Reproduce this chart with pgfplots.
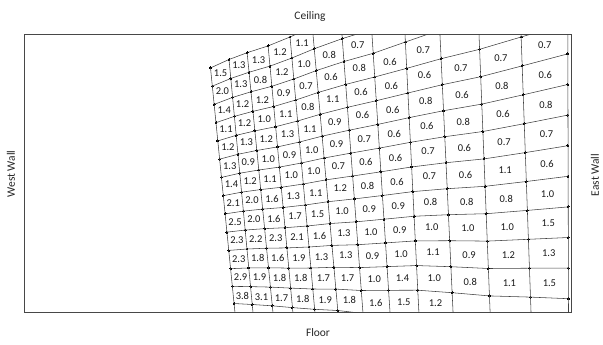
\documentclass[border=0pt]{standalone}
\usepackage{fontspec}
\setmainfont{Carlito}
\usepackage{pgfplots}
\pgfplotsset{compat=1.18}
\usepackage{pgfplotstable}
\pgfplotstableread{
x y v
220.6 73.0 1.5
222.4 91.6 2.0
224.2 110.2 1.4
226.0 128.8 1.1
227.9 147.4 1.2
229.7 166.0 1.3
231.5 184.6 1.4
233.3 203.2 2.1
235.1 221.8 2.5
236.9 240.4 2.3
238.7 259.0 2.3
240.6 277.6 2.9
242.4 296.2 3.8
238.9 65.0 1.3
240.75 84.3 1.3
242.6 103.7 1.2
244.5 123.0 1.2
246.4 142.3 1.3
248.3 161.65 0.9
250.15 181.0 1.2
252.0 200.3 2.0
253.9 219.6 2.0
255.8 239.0 2.2
257.7 258.3 1.8
259.55 277.6 1.9
261.45 297.0 3.1
258.6 60.0 1.3
260.5 79.8 0.8
262.4 99.7 1.2
264.3 119.5 1.0
266.25 139.3 1.2
268.2 159.15 1.0
270.1 179.0 1.1
272.0 198.8 1.6
273.9 218.6 1.6
275.8 238.5 2.3
277.7 258.3 1.6
279.6 278.1 1.8
281.5 298.0 1.7
280.0 52.0 1.2
281.9 72.6 1.2
283.8 93.2 0.9
285.7 113.75 1.1
287.6 134.3 1.3
289.45 154.9 0.9
291.35 175.5 1.0
293.25 196.1 1.3
295.1 216.6 1.7
297.0 237.2 2.1
298.9 257.8 1.9
300.8 278.4 1.8
302.7 299.0 1.8
302.1 43.0 1.1
304.1 64.4 1.0
306.0 85.8 0.7
307.9 107.3 0.8
309.9 128.7 1.1
311.8 150.1 1.0
313.7 171.5 1.0
315.7 192.9 1.1
317.6 214.4 1.5
319.5 235.8 1.6
321.5 257.2 1.3
323.4 278.6 1.7
325.3 300.0 1.9
329.2 55.0 0.8
331.0 77.3 0.6
332.8 99.5 1.1
334.7 121.8 0.9
336.5 144.1 0.9
338.4 166.35 0.7
340.2 188.6 1.2
342.1 210.9 1.0
343.9 233.2 1.3
345.75 255.4 1.3
347.6 277.7 1.7
349.4 300.0 1.8
357.7 45.0 0.7
359.35 68.45 0.8
361.0 91.9 0.6
362.6 115.35 0.6
364.3 138.8 0.7
365.9 162.25 0.6
367.6 185.7 0.8
369.2 209.15 0.9
370.9 232.6 1.0
372.5 256.05 0.9
374.2 279.5 1.0
375.8 302.95 1.6
390.05 62.0 0.6
391.4 86.0 0.6
392.8 110.0 0.6
394.2 134.0 0.6
395.6 158.0 0.6
397.0 182.0 0.6
398.3 206.0 0.9
399.7 230.0 0.9
401.1 254.0 1.0
402.5 278.0 1.4
403.85 302.0 1.5
423.2 50.0 0.7
424.45 75.3 0.6
425.7 100.6 0.8
426.9 125.9 0.6
428.1 151.2 0.7
429.4 176.5 0.7
430.6 201.8 0.8
431.8 227.1 1.0
433.0 252.4 1.1
434.3 277.7 1.0
435.5 303.0 1.2
460.9 68.0 0.7
462.1 94.75 0.6
463.3 121.5 0.8
464.4 148.25 0.6
465.6 175.0 0.6
466.75 201.75 0.8
467.9 228.5 1.0
469.1 255.25 0.9
470.2 282.0 0.8
500.9 58.0 0.7
501.9 86.1 0.8
503.0 114.25 0.6
504.1 142.4 0.7
505.15 170.5 1.1
506.2 198.6 0.8
507.3 226.75 1.0
508.4 254.9 1.2
509.4 283.0 1.1
544.7 45.0 0.7
545.3 74.75 0.6
545.9 104.5 0.8
546.5 134.25 0.7
547.05 164.0 0.6
547.6 193.75 1.0
548.2 223.5 1.5
548.8 253.25 1.3
549.4 283.0 1.5
}\cells

\begin{document}
\begin{tikzpicture}[x=1bp,y=1bp]
\path[use as bounding box] (0,0) rectangle (603,344);
\begin{axis}[
  at={(24bp,32bp)}, anchor=south west,
  width=547bp, height=278bp, scale only axis,
  xmin=24, xmax=571, ymin=34, ymax=312, y dir=reverse,
  axis line style={draw=black!72, line width=1pt},
  xtick=\empty, ytick=\empty,
  clip marker paths=true,
  hl/.style={draw=black!75, line width=0.55pt, mark=*, mark size=0.95pt, mark options={draw=black, fill=black, line width=0pt}},
  vl/.style={draw=black!75, line width=0.55pt, mark=none},
]
% horizontal mesh lines
\addplot[hl] coordinates {(210.5,67.9) (229.0,59.5) (247.1,52.7) (268.1,45.9) (290.0,37.0) (312.3,26.9) (340.5,15.7) (370.1,5.9) (403.0,-5.6) (437.4,-19.3) (476.3,-32.9) (518.0,-49.7) (567.5,-68.5)};
\addplot[hl] coordinates {(212.3,86.15) (230.8,78.45) (249.0,72.25) (270.0,66.1) (291.9,58.0) (314.2,48.75) (342.3,38.6) (371.6,29.6) (404.2,19.05) (438.7,6.7) (477.4,-5.5) (519.0,-20.8) (567.5,-37.9)};
\addplot[hl] coordinates {(214.1,104.4) (232.6,97.4) (251.0,91.8) (271.8,86.3) (293.8,79.0) (316.2,70.6) (344.0,61.5) (373.2,53.3) (405.4,42.0) (439.9,30.0) (478.5,21.9) (520.0,8.1) (567.5,-7.3)};
\addplot[hl] coordinates {(216.0,122.65) (234.4,116.35) (252.9,111.35) (273.7,106.5) (295.7,100.0) (318.2,92.45) (345.7,84.4) (374.7,77.0) (406.7,68.35) (441.1,58.7) (479.6,49.3) (521.1,37.0) (567.5,23.3)};
\addplot[hl] coordinates {(217.8,140.9) (236.2,135.3) (254.9,130.9) (275.6,126.7) (297.6,121.0) (320.1,114.3) (347.5,107.3) (376.3,100.7) (407.9,93.0) (442.3,84.7) (480.7,76.7) (522.1,65.9) (567.6,53.9)};
\addplot[hl] coordinates {(219.6,159.15) (238.0,154.25) (256.8,150.45) (277.5,146.9) (299.5,142.0) (322.1,136.15) (349.2,130.2) (377.8,124.4) (409.1,117.65) (443.6,110.7) (481.8,104.1) (523.2,94.8) (567.7,84.5)};
\addplot[hl] coordinates {(221.4,177.4) (239.8,173.2) (258.8,170.0) (279.4,167.1) (301.4,163.0) (324.1,158.0) (350.9,153.1) (379.4,148.1) (410.4,142.3) (444.8,136.7) (482.9,131.5) (524.2,123.7) (567.8,115.1)};
\addplot[hl] coordinates {(223.3,195.65) (241.6,192.15) (260.7,189.55) (281.2,187.3) (303.3,184.0) (326.0,179.85) (352.6,176.0) (380.9,171.8) (411.6,166.95) (446.0,162.7) (484.0,158.9) (525.2,152.6) (567.9,145.7)};
\addplot[hl] coordinates {(225.1,213.9) (243.4,211.1) (262.7,209.1) (283.1,207.5) (305.2,205.0) (328.0,201.7) (354.4,198.9) (382.4,195.5) (412.8,191.6) (447.2,188.7) (485.1,186.3) (526.3,181.5) (568.0,176.3)};
\addplot[hl] coordinates {(226.9,232.15) (245.2,230.05) (264.6,228.65) (285.0,227.7) (307.1,226.0) (330.0,223.55) (356.1,221.8) (384.0,219.2) (414.1,216.25) (448.4,214.7) (486.1,213.7) (527.3,210.4) (568.1,206.9)};
\addplot[hl] coordinates {(228.7,250.4) (247.0,249.0) (266.5,248.2) (286.9,247.9) (309.0,247.0) (331.9,245.4) (357.8,244.7) (385.5,242.9) (415.3,240.9) (449.7,240.7) (487.2,241.1) (528.4,239.3) (568.2,237.5)};
\addplot[hl] coordinates {(230.6,268.65) (248.8,267.95) (268.5,267.75) (288.7,268.1) (310.9,268.0) (333.9,267.25) (359.6,267.6) (387.1,266.6) (416.5,265.55) (450.9,266.7) (488.3,268.5) (529.4,268.2) (568.3,268.1)};
\addplot[hl] coordinates {(232.4,286.4) (250.6,286.6) (270.4,287.1) (290.6,288.1) (312.8,289.0) (335.9,289.1) (361.3,290.5) (388.6,290.3) (417.8,290.2) (452.1,292.7) (489.4,295.9) (530.5,297.1) (568.4,298.7)};
\addplot[hl] coordinates {(234.0,303.5) (252.2,304.5) (272.2,305.8) (292.4,307.6) (314.6,309.3) (337.8,310.5) (363.0,313.4) (390.1,314.0) (419.0,314.85) (453.3,318.7) (490.5,323.3) (531.5,326.0) (568.5,329.3)};
% column mesh lines
\addplot[vl] coordinates {(210.5,67.9) (235.7,320)};
\addplot[vl] coordinates {(229.0,59.5) (253.7,320)};
\addplot[vl] coordinates {(247.1,52.7) (273.7,320)};
\addplot[vl] coordinates {(268.1,45.9) (293.6,320)};
\addplot[vl] coordinates {(290.0,37.0) (315.6,320)};
\addplot[vl] coordinates {(312.3,26.9) (338.65,320)};
\addplot[vl] coordinates {(340.5,15.7) (363.5,320)};
\addplot[vl] coordinates {(370.1,5.9) (390.5,320)};
\addplot[vl] coordinates {(403.0,-5.6) (419.25,320)};
\addplot[vl] coordinates {(437.4,-19.3) (453.4,320)};
\addplot[vl] coordinates {(476.3,-32.9) (490.4,320)};
\addplot[vl] coordinates {(518.0,-49.7) (531.3,320)};
\addplot[vl] coordinates {(567.5,-68.5) (568.5,320)};
% cell values
\addplot[draw=none, mark=none, nodes near coords, point meta=explicit symbolic,
  nodes near coords style={font=\fontsize{10.5}{12}\selectfont, anchor=center, inner sep=0pt, text=black!90}]
  table[x=x, y=y, meta=v] {\cells};
\end{axis}
\node[font=\fontsize{11.5}{13}\selectfont, text=black!85] at (310,327) {Ceiling};
\node[font=\fontsize{11.5}{13}\selectfont, text=black!85] at (318,11) {Floor};
\node[font=\fontsize{11.5}{13}\selectfont, text=black!85, rotate=90] at (11,170) {West Wall};
\node[font=\fontsize{11.5}{13}\selectfont, text=black!85, rotate=90] at (595,169) {East Wall};
\end{tikzpicture}
\end{document}
